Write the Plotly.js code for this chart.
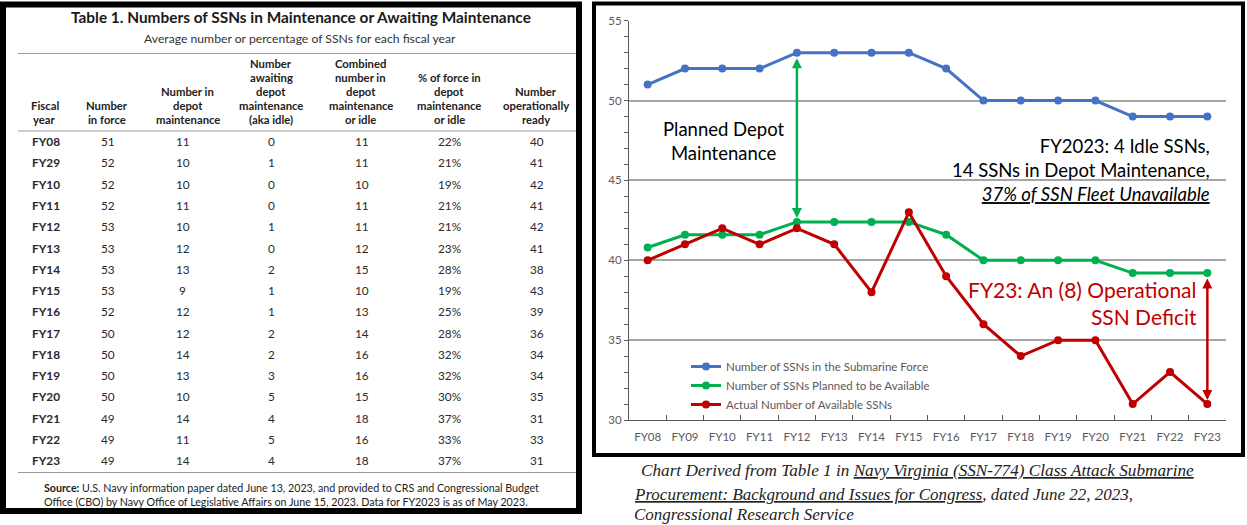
<!DOCTYPE html>
<html>
<head>
<meta charset="utf-8">
<script src="https://cdn.plot.ly/plotly-3.0.1.min.js"></script>
<style>html,body{margin:0;padding:0;background:#fff;}#chart{width:1247px;height:525px;}</style>
</head>
<body>
<div id="chart"></div>
<script>
// ---------------- DATA ----------------
const tableYears = ["FY08","FY29","FY10","FY11","FY12","FY13","FY14","FY15","FY16","FY17","FY18","FY19","FY20","FY21","FY22","FY23"];
const inForce = [51,52,52,52,53,53,53,53,52,50,50,50,50,49,49,49];
const inDepot = [11,10,10,11,10,12,13,9,12,12,14,13,10,14,11,14];
const awaitingIdle = [0,1,0,0,1,0,2,1,1,2,2,3,5,4,5,4];
const combinedDepotIdle = [11,11,10,11,11,12,15,10,13,14,16,16,15,18,16,18];
const pctForce = ["22%","21%","19%","21%","21%","23%","28%","19%","25%","28%","32%","32%","30%","37%","33%","37%"];
const opReady = [40,41,42,41,42,41,38,43,39,36,34,34,35,31,33,31];

const headerLines = [
  ["Fiscal","year"],
  ["Number","in force"],
  ["Number in","depot","maintenance"],
  ["Number","awaiting","depot","maintenance","(aka idle)"],
  ["Combined","number in","depot","maintenance","or idle"],
  ["% of force in","depot","maintenance","or idle"],
  ["Number","operationally","ready"]
];

const chartYears = ["FY08","FY09","FY10","FY11","FY12","FY13","FY14","FY15","FY16","FY17","FY18","FY19","FY20","FY21","FY22","FY23"];
const subForce = [51,52,52,52,53,53,53,53,52,50,50,50,50,49,49,49];
const plannedAvail = [40.8,41.6,41.6,41.6,42.4,42.4,42.4,42.4,41.6,40,40,40,40,39.2,39.2,39.2];
const actualAvail = [40,41,42,41,42,41,38,43,39,36,34,35,35,31,33,31];
const seriesNames = ["Number of SSNs in the Submarine Force","Number of SSNs Planned to be Available","Actual Number of Available SSNs"];

// ---------------- LAYOUT HELPERS ----------------
const W = 1247, H = 525;
const X = p => p / W;
const Y = p => 1 - p / H;
const TF = 'Lato, "Open Sans", sans-serif';
const CF = 'Lato, "Open Sans", sans-serif';
const SERIF = '"Liberation Serif", "DejaVu Serif", serif';

const annotations = [];
const shapes = [];

// table title
annotations.push({xref:'paper',yref:'paper',x:X(301),y:Y(17),xanchor:'center',yanchor:'middle',showarrow:false,
  text:'<b>Table 1. Numbers of SSNs in Maintenance or Awaiting Maintenance</b>',font:{family:TF,size:15.4,color:'#1a1a1a'}});
annotations.push({xref:'paper',yref:'paper',x:X(300),y:Y(38),xanchor:'center',yanchor:'middle',showarrow:false,
  text:'Average number or percentage of SSNs for each fiscal year',font:{family:TF,size:12.2,color:'#333'}});

// header
const headerX = [44.5,106.6,187.7,271,360.5,449,536];
const dataX = [45.7,107.7,182.7,271,361.6,449,536.7];
headerLines.forEach((lines,c)=>{
  const n = lines.length;
  lines.forEach((t,k)=>{
    const yy = 119.5 - (n-1-k)*14;
    annotations.push({xref:'paper',yref:'paper',x:X(headerX[c]),y:Y(yy),xanchor:'center',yanchor:'middle',showarrow:false,
      text:'<b>'+t+'</b>',font:{family:TF,size:11.3,color:'#222'}});
  });
});
// rows
const cols = [tableYears,inForce,inDepot,awaitingIdle,combinedDepotIdle,pctForce,opReady];
tableYears.forEach((fy,i)=>{
  const yy = 141.7 + i*21.27;
  cols.forEach((arr,c)=>{
    annotations.push({xref:'paper',yref:'paper',x:X(dataX[c]),y:Y(yy),xanchor:'center',yanchor:'middle',showarrow:false,
      text:(c===0?'<b>'+arr[i]+'</b>':String(arr[i])),font:{family:TF,size:11.8,color:'#2a2a2a'}});
  });
});
// source
annotations.push({xref:'paper',yref:'paper',x:X(42),y:Y(487.7),xanchor:'left',yanchor:'middle',showarrow:false,
  text:'<b>Source:</b> U.S. Navy information paper dated June 13, 2023, and provided to CRS and Congressional Budget',font:{family:TF,size:10.7,color:'#222'}});
annotations.push({xref:'paper',yref:'paper',x:X(42),y:Y(501.7),xanchor:'left',yanchor:'middle',showarrow:false,
  text:'Office (CBO) by Navy Office of Legislative Affairs on June 15, 2023. Data for FY2023 is as of May 2023.',font:{family:TF,size:10.7,color:'#222'}});

// table rules
[53.5,131,472.5].forEach(yy=>{
  shapes.push({type:'line',xref:'paper',yref:'paper',x0:X(18),x1:X(578),y0:Y(yy),y1:Y(yy),line:{color:'#9a9a9a',width:1}});
});
// panel borders
shapes.push({type:'rect',xref:'paper',yref:'paper',x0:X(3),x1:X(579),y0:Y(4.5),y1:Y(511),line:{color:'#000',width:6},layer:'above'});
shapes.push({type:'rect',xref:'paper',yref:'paper',x0:X(594),x1:X(1243),y0:Y(3.5),y1:Y(455),line:{color:'#000',width:4},layer:'above'});

// chart texts
annotations.push({xref:'paper',yref:'paper',x:X(724),y:Y(140.5),xanchor:'center',yanchor:'middle',showarrow:false,align:'center',
  text:'Planned Depot<br>Maintenance',font:{family:CF,size:18.5,color:'#000'}});
annotations.push({xref:'paper',yref:'paper',x:X(1212),y:Y(170),xanchor:'right',yanchor:'middle',showarrow:false,align:'right',
  text:'FY2023: 4 Idle SSNs,<br>14 SSNs in Depot Maintenance,<br><i><u>37% of SSN Fleet Unavailable</u></i>',font:{family:CF,size:18.5,color:'#000'}});
annotations.push({xref:'paper',yref:'paper',x:X(1199),y:Y(303),xanchor:'right',yanchor:'middle',showarrow:false,align:'right',
  text:'FY23: An (8) Operational<br>SSN Deficit',font:{family:CF,size:21,color:'#C00000'}});

// arrows
annotations.push({xref:'x',yref:'y',axref:'x',ayref:'y',x:chartYears[4],y:plannedAvail[4],ax:chartYears[4],ay:subForce[4],
  text:'',showarrow:true,arrowside:'end+start',arrowhead:2,startarrowhead:2,arrowsize:0.8,startarrowsize:0.8,arrowwidth:2.5,arrowcolor:'#00B050',standoff:4,startstandoff:4});
annotations.push({xref:'x',yref:'y',axref:'x',ayref:'y',x:chartYears[15],y:actualAvail[15],ax:chartYears[15],ay:plannedAvail[15],
  text:'',showarrow:true,arrowside:'end+start',arrowhead:2,startarrowhead:2,arrowsize:0.8,startarrowsize:0.8,arrowwidth:2.5,arrowcolor:'#C00000',standoff:4,startstandoff:4});

// caption
annotations.push({xref:'paper',yref:'paper',x:X(639),y:Y(470.5),xanchor:'left',yanchor:'middle',showarrow:false,
  text:'Chart Derived from Table 1 in <u>Navy Virginia (SSN-774) Class Attack Submarine</u>',font:{family:SERIF,size:17.2,color:'#222',style:'italic'}});
annotations.push({xref:'paper',yref:'paper',x:X(632),y:Y(494),xanchor:'left',yanchor:'middle',showarrow:false,
  text:'<u>Procurement: Background and Issues for Congress</u>, dated June 22, 2023,',font:{family:SERIF,size:17,color:'#222',style:'italic'}});
annotations.push({xref:'paper',yref:'paper',x:X(632),y:Y(514),xanchor:'left',yanchor:'middle',showarrow:false,
  text:'Congressional Research Service',font:{family:SERIF,size:17,color:'#222',style:'italic'}});

// ---------------- TRACES ----------------
const colors = ['#4472C4','#00B050','#C00000'];
const seriesData = [subForce, plannedAvail, actualAvail];
const traces = seriesData.map((ys,i)=>({
  type:'scatter',mode:'lines+markers',x:chartYears,y:ys,name:seriesNames[i],
  line:{color:colors[i],width:3},marker:{color:colors[i],size:8},
  hoverinfo:'x+y+name'
}));

const layout = {
  width:W,height:H,autosize:false,
  margin:{l:0,r:0,t:0,b:0,pad:0},
  paper_bgcolor:'#fff',plot_bgcolor:'rgba(0,0,0,0)',
  font:{family:CF,color:'#595959'},
  showlegend:true,
  legend:{x:X(686),y:Y(352),xanchor:'left',yanchor:'top',bgcolor:'rgba(0,0,0,0)',
    font:{family:CF,size:11.5,color:'#595959'},itemwidth:30,tracegroupgap:0},
  xaxis:{type:'category',categoryorder:'array',categoryarray:chartYears,domain:[X(629),X(1226)],range:[-0.5,15.5],
    showline:true,linecolor:'#595959',linewidth:1.2,ticks:'inside',tickson:'boundaries',ticklen:5,tickcolor:'#595959',
    showgrid:false,zeroline:false,tickfont:{family:CF,size:11.5,color:'#595959'},ticklabelstandoff:6,fixedrange:true},
  yaxis:{domain:[Y(420),Y(20.7)],range:[30,55],dtick:5,tick0:30,showline:true,linecolor:'#595959',linewidth:1.2,
    ticks:'outside',ticklen:4,tickcolor:'#595959',minor:{dtick:1,ticks:'outside',ticklen:4,tickcolor:'#595959',showgrid:false},
    showgrid:true,gridcolor:'#a6a6a6',gridwidth:1.5,zeroline:false,tickfont:{family:CF,size:11.5,color:'#595959'},fixedrange:true},
  annotations:annotations,
  shapes:shapes
};

Plotly.newPlot('chart',traces,layout,{displayModeBar:false,staticPlot:false});
</script>
</body>
</html>
